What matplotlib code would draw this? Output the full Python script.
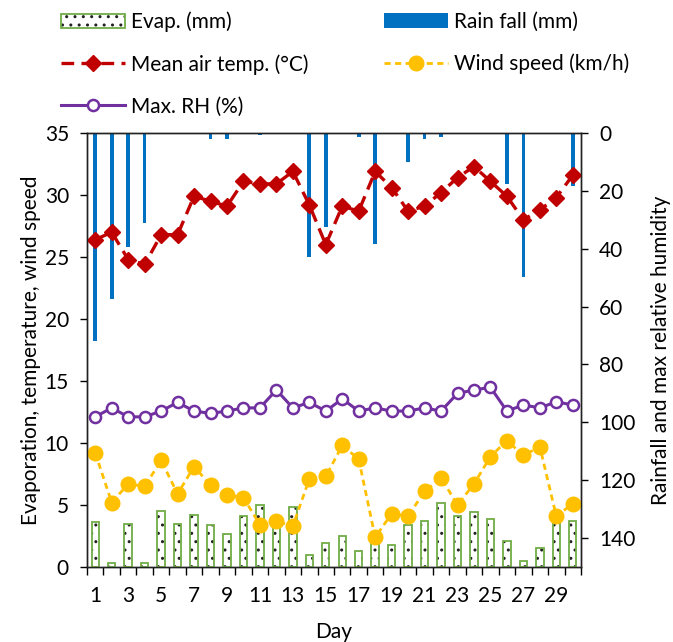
import matplotlib
matplotlib.use('Agg')
import matplotlib.pyplot as plt
import numpy as np

plt.rcParams['font.family'] = ['Lato', 'DejaVu Sans']
plt.rcParams['hatch.linewidth'] = 1.0

days = np.arange(1, 31)
evap = [3.6, 0.3, 3.5, 0.3, 4.5, 3.5, 4.2, 3.4, 2.7, 4.1,
        5.0, 3.5, 4.8, 1.0, 1.9, 2.5, 1.3, 2.0, 1.8, 3.4,
        3.7, 5.2, 4.1, 4.4, 3.9, 2.1, 0.5, 1.5, 4.0, 3.7]
rain = [72.0, 57.4, 39.3, 31.0, 0, 0.4, 0, 2.1, 2.1, 0,
        0.8, 0, 0, 42.7, 32.4, 0, 1.5, 38.5, 0, 9.9,
        2.1, 1.5, 0, 0, 0, 17.6, 49.9, 0, 0, 18.3]
temp = [26.4, 27.0, 24.8, 24.4, 26.8, 26.8, 29.9, 29.5, 29.1, 31.1,
        30.9, 30.9, 31.9, 29.2, 26.0, 29.1, 28.7, 31.9, 30.6, 28.7,
        29.1, 30.2, 31.4, 32.3, 31.1, 29.9, 28.0, 28.8, 29.8, 31.6]
wind = [9.2, 5.2, 6.7, 6.5, 8.6, 5.9, 8.1, 6.6, 5.8, 5.6,
        3.4, 3.7, 3.3, 7.1, 7.3, 9.8, 8.7, 2.4, 4.3, 4.1,
        6.1, 7.2, 5.0, 6.7, 8.9, 10.2, 9.0, 9.7, 4.1, 5.1]
rh = [98.1, 95.0, 98.1, 98.1, 96.1, 93.1, 96.1, 96.9, 96.1, 95.0,
      95.0, 88.8, 95.0, 93.1, 96.1, 91.9, 96.1, 95.0, 96.1, 96.1,
      95.0, 96.1, 90.0, 88.8, 87.9, 96.1, 94.0, 95.0, 92.9, 94.0]

fs = 15
fig = plt.figure(figsize=(6.73, 6.42), dpi=100)
ax = fig.add_axes([0.1293, 0.1168, 0.734, 0.676])
ax2 = ax.twinx()

# right axis: rain + RH
rb = ax2.bar(days, rain, width=0.22, color='#0070C0', label='Rain fall (mm)')
lrh, = ax2.plot(days, rh, '-o', color='#7030A0', lw=2.2, ms=8,
                mfc='white', mec='#7030A0', mew=1.8, label='Max. RH (%)')
ax2.set_ylim(150, 0)
ax2.set_yticks(np.arange(0, 141, 20))

# left axis: evap, temp, wind
eb1 = ax.bar(days, evap, width=0.45, color='white', edgecolor='#222222',
             hatch='..', linewidth=0)
eb2 = ax.bar(days, evap, width=0.45, fill=False, edgecolor='#70AD47', linewidth=1.3)
lt, = ax.plot(days, temp, color='#C00000', lw=2.4, dashes=(3.8, 2.2),
              marker='D', ms=8, label='Mean air temp. (°C)')
lw_, = ax.plot(days, wind, color='#FFC000', lw=2.0, dashes=(2.2, 1.6),
               marker='o', ms=10.5, label='Wind speed (km/h)')
ax.set_ylim(0, 35)
ax.set_xlim(0.5, 30.5)
ax.set_yticks(np.arange(0, 36, 5))

ax.set_zorder(ax2.get_zorder() + 1)
ax.patch.set_visible(False)

ax.set_xticks(np.arange(0.5, 31, 1))
ax.set_xticklabels([])
ax.set_xticks(np.arange(1, 30, 2), minor=True)
ax.set_xticklabels([str(d) for d in range(1, 30, 2)], minor=True)
ax.tick_params(axis='x', which='major', direction='out', length=6, width=1)
ax.tick_params(axis='x', which='minor', length=0, pad=14, labelsize=fs)
ax.tick_params(axis='y', direction='out', length=5, width=1, labelsize=fs, pad=8)
ax2.tick_params(axis='y', direction='out', length=5, width=1, labelsize=fs, pad=8)
for a in (ax, ax2):
    for s in a.spines.values():
        s.set_color('#222222')
        s.set_linewidth(1.0)

ax.set_xlabel('Day', fontsize=fs, labelpad=11)
ax.set_ylabel('Evaporation, temperature, wind speed', fontsize=fs, labelpad=3)
ax2.set_ylabel('Rainfall and max relative humidity', fontsize=fs, labelpad=11)

leg_kw = dict(frameon=False, fontsize=fs, handlelength=3.1, handletextpad=0.3,
              labelspacing=1.05, borderaxespad=0, borderpad=0)
leg1 = fig.legend([(eb1[0], eb2[0]), lt, lrh],
                  ['Evap. (mm)', 'Mean air temp. (°C)', 'Max. RH (%)'],
                  loc='upper left', bbox_to_anchor=(0.09, 0.982), **leg_kw)
leg2 = fig.legend([rb, lw_], ['Rain fall (mm)', 'Wind speed (km/h)'],
                  loc='upper left', bbox_to_anchor=(0.57, 0.982), **leg_kw)

fig.savefig('out.png', dpi=100)
